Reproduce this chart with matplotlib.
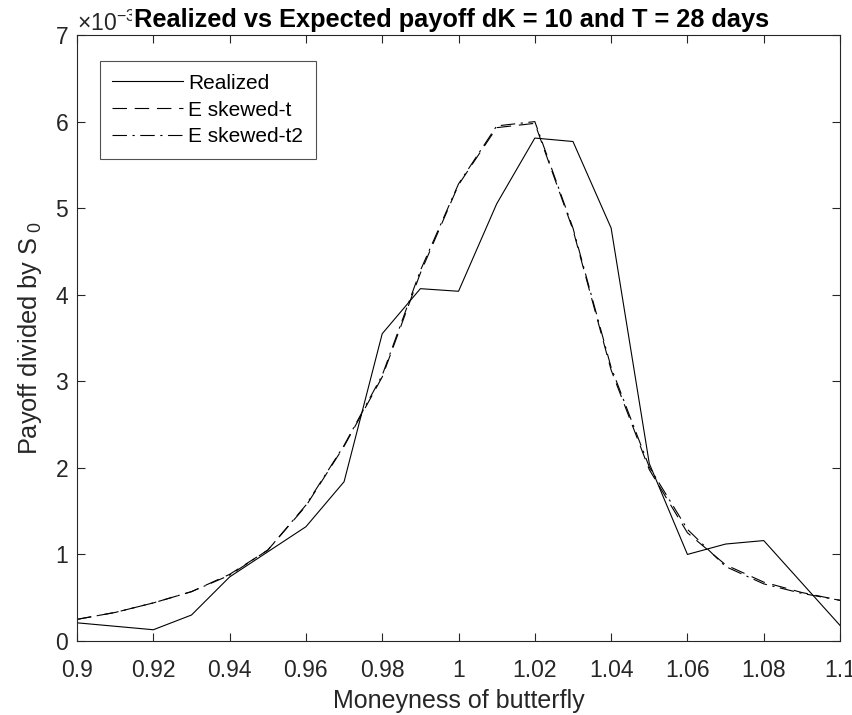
import matplotlib
matplotlib.use("Agg")
import matplotlib.pyplot as plt
from matplotlib.ticker import ScalarFormatter, MultipleLocator

plt.rcParams['font.family'] = ['Liberation Sans', 'DejaVu Sans']
plt.rcParams['mathtext.fontset'] = 'custom'
plt.rcParams['mathtext.rm'] = 'Liberation Sans'
plt.rcParams['mathtext.it'] = 'Liberation Sans'

# Moneyness grid of the butterflies
moneyness = [0.90, 0.91, 0.92, 0.93, 0.94, 0.95, 0.96, 0.97, 0.98, 0.99, 1.00,
             1.01, 1.02, 1.03, 1.04, 1.05, 1.06, 1.07, 1.08, 1.09, 1.10]

# Payoffs divided by S0, in units of 1e-3
realized = [0.21, 0.17, 0.13, 0.30, 0.74, 1.03, 1.32, 1.84, 3.55, 4.07, 4.04,
            5.05, 5.81, 5.77, 4.77, 2.05, 1.00, 1.12, 1.16, 0.67, 0.18]
exp_skewed_t = [0.25, 0.33, 0.44, 0.57, 0.77, 1.05, 1.56, 2.25, 3.05, 4.25, 5.27,
                5.93, 5.98, 4.75, 3.13, 1.98, 1.25, 0.88, 0.68, 0.56, 0.47]
exp_skewed_t2 = [0.25, 0.33, 0.44, 0.57, 0.76, 1.05, 1.57, 2.26, 3.07, 4.28, 5.28,
                 5.95, 6.00, 4.77, 3.16, 2.01, 1.29, 0.86, 0.66, 0.55, 0.47]
xtick_labels = ['0.9', '0.92', '0.94', '0.96', '0.98', '1',
                '1.02', '1.04', '1.06', '1.08', '1.1']

scale = 1e-3
ink = '#262626'
lw = 0.8

fig = plt.figure(figsize=(8.53, 7.15), dpi=100)
ax = fig.add_axes([0.0903, 0.1035, 0.8945, 0.8475])

ax.plot(moneyness, [v * scale for v in realized], color='black', lw=lw,
        linestyle='-', label='Realized')
ax.plot(moneyness, [v * scale for v in exp_skewed_t], color='black', lw=lw,
        linestyle=(0, (13, 7)), label='E skewed-t')
ax.plot(moneyness, [v * scale for v in exp_skewed_t2], color='black', lw=lw,
        linestyle=(0, (13, 5, 2, 5)), label='E skewed-t2')

ax.set_xlim(0.9, 1.1)
ax.set_ylim(0, 7e-3)
ax.set_xticks([0.9 + 0.02 * i for i in range(len(xtick_labels))])
ax.set_xticklabels(xtick_labels)
ax.yaxis.set_major_locator(MultipleLocator(1e-3))

fmt = ScalarFormatter(useMathText=True)
fmt.set_powerlimits((-2, 2))
ax.yaxis.set_major_formatter(fmt)
ax.yaxis.get_offset_text().set_fontsize(16.5)
ax.yaxis.get_offset_text().set_color(ink)

for side in ax.spines.values():
    side.set_color(ink)
    side.set_linewidth(0.8)
ax.tick_params(direction='in', length=5.5, width=0.8, top=True, right=True,
               labelsize=16.5, colors=ink)
ax.tick_params(axis='x', pad=13)
ax.tick_params(axis='y', pad=6)

ax.set_xlabel('Moneyness of butterfly', fontsize=18, color=ink, labelpad=5)
ax.set_ylabel(r'Payoff divided by S$_{\ 0}$', fontsize=18.3, color=ink, labelpad=8)
ax.set_title('Realized vs Expected payoff dK = 10 and T = 28 days',
             fontsize=18.3, fontweight='bold', x=0.4915, y=1.0, pad=6,
             bbox=dict(facecolor='white', edgecolor='none', pad=2))

leg = ax.legend(loc='upper left', bbox_to_anchor=(0.030, 0.957), fontsize=15,
                frameon=True, fancybox=False, edgecolor=ink,
                handlelength=3.4, handletextpad=0.25, borderpad=0.6,
                labelspacing=0.38, borderaxespad=0.0)
leg.get_frame().set_linewidth(0.8)

fig.savefig('out.png', dpi=100, facecolor='white')
